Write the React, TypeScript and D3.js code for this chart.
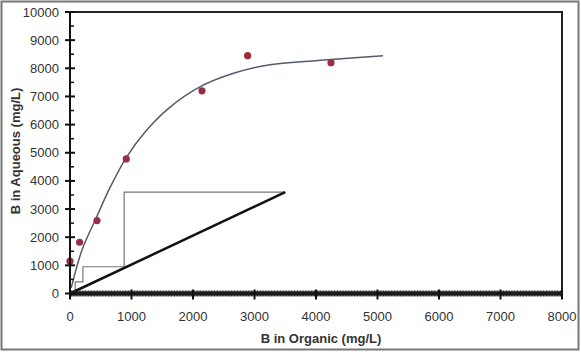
import React from "react";
import * as d3 from "d3";

const xTicks = [0, 1000, 2000, 3000, 4000, 5000, 6000, 7000, 8000];
const yTicks = [0, 1000, 2000, 3000, 4000, 5000, 6000, 7000, 8000, 9000, 10000];

const dataX = [0, 156, 439, 915, 2146, 2888, 4244];
const dataY = [1150, 1820, 2590, 4780, 7200, 8450, 8200];

const curveX = [20, 195, 411, 650, 915, 1224, 1603, 2119, 2660, 3229, 4244, 5089];
const curveY = [200, 1545, 2611, 3760, 4830, 5748, 6579, 7346, 7822, 8120, 8310, 8450];

const opX = [0, 3500];
const opY = [0, 3600];

const stepX = [3500, 880, 880, 210, 210, 85, 85];
const stepY = [3600, 3600, 950, 950, 410, 410, 90];

const W = 581, H = 352;
const x = d3.scaleLinear().domain([0, 8000]).range([70, 562]);
const y = d3.scaleLinear().domain([0, 10000]).range([293.5, 12]);

export default function App() {
  const line = d3.line<[number, number]>().x(d => x(d[0])).y(d => y(d[1]));
  const curvePts: [number, number][] = curveX.map((v, i) => [v, curveY[i]]);
  const opPts: [number, number][] = opX.map((v, i) => [v, opY[i]]);
  const stepPts: [number, number][] = stepX.map((v, i) => [v, stepY[i]]);
  const smooth = d3.line<[number, number]>().x(d => x(d[0])).y(d => y(d[1])).curve(d3.curveCatmullRom);
  const minorX = d3.range(0, 8001, 25);
  const minorY = d3.range(500, 10000, 1000);
  const font = "Liberation Sans, Arial, Helvetica, sans-serif";
  return (
    <svg width={W} height={H} style={{ position: "absolute", left: 0, top: 0, background: "#fff" }}>
      <defs>
        <filter id="blur" x="-50%" y="-50%" width="200%" height="200%">
          <feGaussianBlur stdDeviation="0.5" />
        </filter>
      </defs>
      <rect x={1.5} y={1.5} width={577} height={348} fill="#fff" stroke="#777" strokeWidth={2} />
      <path d={`M${x(0)},${y(10000)}H${x(8000)}V${y(0)}`} fill="none" stroke="#222" strokeWidth={2} />
      <path d={line(stepPts) || ""} fill="none" stroke="#777" strokeWidth={1.2} />
      <path d={line(opPts) || ""} fill="none" stroke="#111" strokeWidth={2.5} />
      <path d={smooth(curvePts) || ""} fill="none" stroke="#555a6e" strokeWidth={1.5} />
      {dataX.map((v, i) => (
        <circle key={i} cx={x(v)} cy={y(dataY[i])} r={3.6} fill="#9a2f43" filter="url(#blur)" />
      ))}
      <line x1={x(0)} x2={x(8000)} y1={y(0)} y2={y(0)} stroke="#111" strokeWidth={4} />
      {minorX.map(v => (
        <line key={v} x1={x(v)} x2={x(v)} y1={y(0) - 3} y2={y(0) + 3} stroke="#222" strokeWidth={1} />
      ))}
      {xTicks.map(v => (
        <g key={v}>
          <line x1={x(v)} x2={x(v)} y1={y(0) - 4} y2={y(0) + 6} stroke="#111" strokeWidth={2} />
          <text x={x(v)} y={321} textAnchor="middle" fontFamily={font} fontSize={13} fill="#333">{v}</text>
        </g>
      ))}
      <line x1={x(0)} x2={x(0)} y1={y(0)} y2={y(10000)} stroke="#111" strokeWidth={2} />
      {minorY.map(v => (
        <line key={v} x1={x(0)} x2={x(0) + 4} y1={y(v)} y2={y(v)} stroke="#111" strokeWidth={1.5} />
      ))}
      {yTicks.map(v => (
        <g key={v}>
          <line x1={x(0) - 5} x2={x(0) + 5} y1={y(v)} y2={y(v)} stroke="#111" strokeWidth={2} />
          <text x={59} y={y(v) + 4.5} textAnchor="end" fontFamily={font} fontSize={13} fill="#333">{v}</text>
        </g>
      ))}
      <text x={321} y={343} textAnchor="middle" fontFamily={font} fontSize={13} fontWeight="bold" fill="#333">B in Organic (mg/L)</text>
      <text transform={`translate(20,151) rotate(-90)`} textAnchor="middle" fontFamily={font} fontSize={13} fontWeight="bold" fill="#333">B in Aqueous (mg/L)</text>
    </svg>
  );
}
